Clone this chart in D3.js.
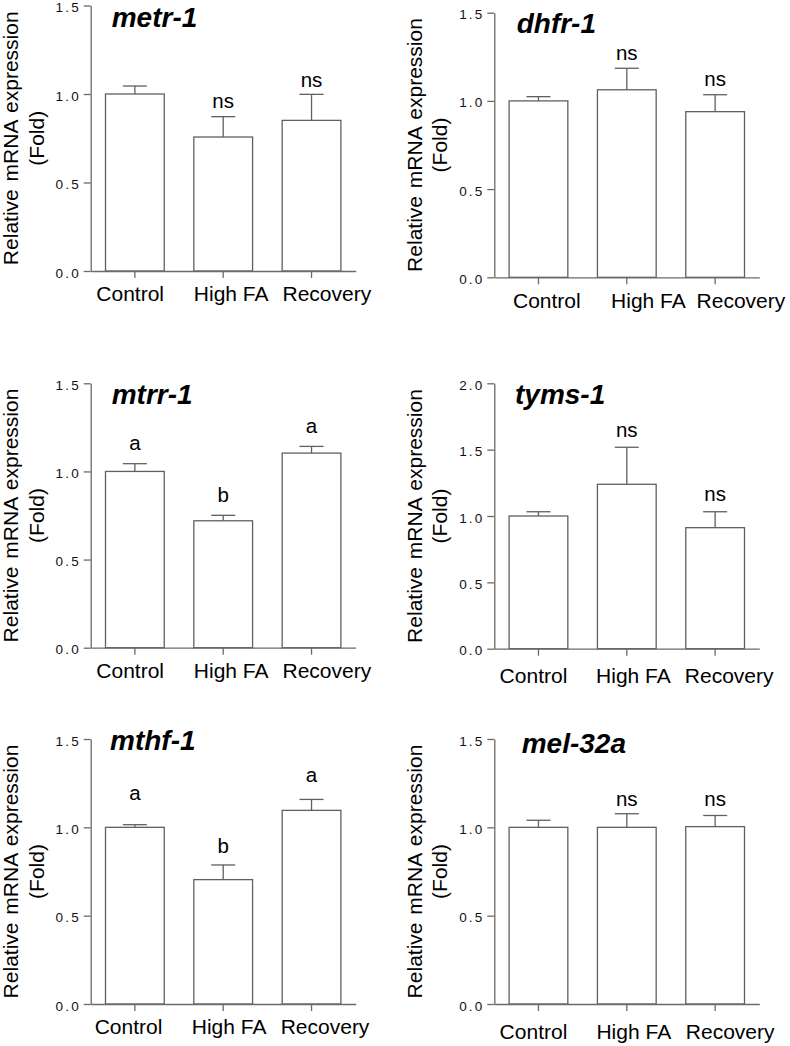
<!DOCTYPE html>
<html>
<head>
<meta charset="utf-8">
<script src="https://cdn.jsdelivr.net/npm/d3@7"></script>
<style>
  html, body { margin: 0; padding: 0; background: #fff; }
  svg { display: block; font-family: Arial, "Liberation Sans", sans-serif; }
</style>
</head>
<body>
<svg id="chart" width="790" height="1046"></svg>
<script>
// ---------------- DATA ----------------
const categories = ["Control", "High FA", "Recovery"];
const genes = ["metr-1", "dhfr-1", "mtrr-1", "tyms-1", "mthf-1", "mel-32a"];

const meanMetr1 = [1.000, 0.757, 0.851];
const semMetr1  = [0.045, 0.115, 0.147];
const meanDhfr1 = [1.000, 1.063, 0.939];
const semDhfr1  = [0.024, 0.122, 0.096];
const meanMtrr1 = [1.000, 0.720, 1.104];
const semMtrr1  = [0.044, 0.031, 0.038];
const meanTyms1 = [1.000, 1.239, 0.912];
const semTyms1  = [0.032, 0.279, 0.120];
const meanMthf1 = [1.000, 0.704, 1.096];
const semMthf1  = [0.015, 0.083, 0.062];
const meanMel32a = [1.000, 1.000, 1.004];
const semMel32a  = [0.040, 0.077, 0.063];

const sigMetr1  = ["", "ns", "ns"];
const sigDhfr1  = ["", "ns", "ns"];
const sigMtrr1  = ["a", "b", "a"];
const sigTyms1  = ["", "ns", "ns"];
const sigMthf1  = ["a", "b", "a"];
const sigMel32a = ["", "ns", "ns"];

// height (in y units) of the significance label baselines
const sigAtMetr1  = [null, 0.919, 1.041];
const sigAtDhfr1  = [null, 1.232, 1.084];
const sigAtMtrr1  = [1.121, 0.828, 1.219];
const sigAtTyms1  = [null, 1.598, 1.115];
const sigAtMthf1  = [1.155, 0.856, 1.258];
const sigAtMel32a = [null, 1.121, 1.121];

const ticks15 = [0, 0.5, 1.0, 1.5];
const ticks20 = [0, 0.5, 1.0, 1.5, 2.0];
const yMaxes = [1.5, 1.5, 1.5, 2.0, 1.5, 1.5];

const yTitleLine1 = "Relative mRNA expression";
const yTitleLine2 = "(Fold)";

const means = [meanMetr1, meanDhfr1, meanMtrr1, meanTyms1, meanMthf1, meanMel32a];
const sems  = [semMetr1, semDhfr1, semMtrr1, semTyms1, semMthf1, semMel32a];
const sigs  = [sigMetr1, sigDhfr1, sigMtrr1, sigTyms1, sigMthf1, sigMel32a];
const sigAts = [sigAtMetr1, sigAtDhfr1, sigAtMtrr1, sigAtTyms1, sigAtMthf1, sigAtMel32a];
const tickSets = [ticks15, ticks15, ticks15, ticks20, ticks15, ticks15];

// ---------------- LAYOUT ----------------
const layout = [
  { ax: 90.7,  y0: 271.0,  yTop: 5.5,   tx: 111.7, ty: 26.7,  lab: [-4.7, 8.0, 15.3], lby: 29.5 },
  { ax: 494.3, y0: 277.3,  yTop: 12.7,  tx: 516.7, ty: 33.3,  lab: [8.4, 21.6, 25.8], lby: 31.0 },
  { ax: 90.7,  y0: 647.7,  yTop: 383.3, tx: 111.7, ty: 404.0, lab: [-4.7, 8.0, 15.3], lby: 30.6 },
  { ax: 494.3, y0: 648.7,  yTop: 383.3, tx: 515.0, ty: 404.0, lab: [-5.0, 6.6, 14.0], lby: 34.6 },
  { ax: 90.7,  y0: 1004.0, yTop: 739.0, tx: 110.0, ty: 750.0, lab: [-6.3, 5.9, 13.5], lby: 30.3 },
  { ax: 494.3, y0: 1004.0, yTop: 739.0, tx: 521.7, ty: 752.7, lab: [-5.0, 7.0, 15.0], lby: 35.0 }
];
const axisWidth = 265;
const axisColor = "#6a6a6a";
const barStroke = "#606060";

const svg = d3.select("#chart");

genes.forEach((gene, i) => {
  const L = layout[i];
  const g = svg.append("g");

  const x = d3.scaleBand()
    .domain(categories)
    .range([L.ax, L.ax + axisWidth])
    .paddingInner(0.335)
    .paddingOuter(0.1675);

  const y = d3.scaleLinear()
    .domain([0, yMaxes[i]])
    .range([L.y0, L.yTop]);

  const rows = categories.map((c, k) => ({
    cat: c, k: k, mean: means[i][k], sem: sems[i][k], sig: sigs[i][k], sigAt: sigAts[i][k]
  }));

  // error bars
  const eb = g.append("g");
  eb.selectAll("line.stem").data(rows).join("line")
    .attr("x1", d => x(d.cat) + x.bandwidth() / 2)
    .attr("x2", d => x(d.cat) + x.bandwidth() / 2)
    .attr("y1", d => y(d.mean))
    .attr("y2", d => y(d.mean + d.sem))
    .attr("stroke", barStroke).attr("stroke-width", 1.3);
  eb.selectAll("line.cap").data(rows).join("line")
    .attr("x1", d => x(d.cat) + x.bandwidth() / 2 - 12)
    .attr("x2", d => x(d.cat) + x.bandwidth() / 2 + 12)
    .attr("y1", d => y(d.mean + d.sem))
    .attr("y2", d => y(d.mean + d.sem))
    .attr("stroke", barStroke).attr("stroke-width", 1.3);

  // bars
  g.append("g").selectAll("rect").data(rows).join("rect")
    .attr("x", d => x(d.cat))
    .attr("width", x.bandwidth())
    .attr("y", d => y(d.mean))
    .attr("height", d => y(0) - y(d.mean))
    .attr("fill", "#fff")
    .attr("stroke", barStroke)
    .attr("stroke-width", 1.3);

  // y axis
  const yAxis = g.append("g")
    .attr("transform", `translate(${L.ax},0)`)
    .call(d3.axisLeft(y).tickValues(tickSets[i]).tickFormat(d3.format(".1f"))
      .tickSize(7).tickSizeOuter(0).tickPadding(5));
  yAxis.select(".domain").attr("stroke", axisColor).attr("stroke-width", 1.3);
  yAxis.selectAll(".tick line").attr("stroke", axisColor).attr("stroke-width", 1.3);
  yAxis.selectAll(".tick text")
    .attr("font-size", 13.5)
    .attr("fill", "#111")
    .attr("letter-spacing", "2.2px")
    .attr("dx", "2.2px")
    .attr("dy", "0.45em")
    .attr("font-family", "Arial, 'Liberation Sans', sans-serif");

  // x axis
  const xAxis = g.append("g")
    .attr("transform", `translate(0,${L.y0})`)
    .call(d3.axisBottom(x).tickSize(7).tickSizeOuter(0).tickFormat(""));
  xAxis.select(".domain").attr("stroke", axisColor).attr("stroke-width", 1.3);
  xAxis.selectAll(".tick line").attr("stroke", axisColor).attr("stroke-width", 1.3);

  // category labels
  g.append("g").selectAll("text").data(rows).join("text")
    .attr("x", d => x(d.cat) + x.bandwidth() / 2 + L.lab[d.k])
    .attr("y", L.y0 + L.lby)
    .attr("text-anchor", "middle")
    .attr("font-size", 21)
    .attr("fill", "#000")
    .text(d => d.cat);

  // significance labels
  g.append("g").selectAll("text").data(rows.filter(d => d.sig !== "")).join("text")
    .attr("x", d => x(d.cat) + x.bandwidth() / 2)
    .attr("y", d => y(d.sigAt))
    .attr("text-anchor", "middle")
    .attr("font-size", 20.5)
    .attr("fill", "#000")
    .text(d => d.sig);

  // gene title
  g.append("text")
    .attr("x", L.tx)
    .attr("y", L.ty)
    .attr("font-size", 28)
    .attr("font-weight", "bold")
    .attr("font-style", "italic")
    .attr("fill", "#000")
    .text(gene);

  // y-axis title
  const cy = (L.y0 + L.yTop) / 2;
  g.append("text")
    .attr("transform", `translate(${L.ax - 72.5},${cy}) rotate(-90)`)
    .attr("text-anchor", "middle")
    .attr("font-size", 21)
    .attr("word-spacing", "2px")
    .attr("fill", "#000")
    .text(yTitleLine1);
  g.append("text")
    .attr("transform", `translate(${L.ax - 47},${cy}) rotate(-90)`)
    .attr("text-anchor", "middle")
    .attr("font-size", 21)
    .attr("fill", "#000")
    .text(yTitleLine2);
});
</script>
</body>
</html>
